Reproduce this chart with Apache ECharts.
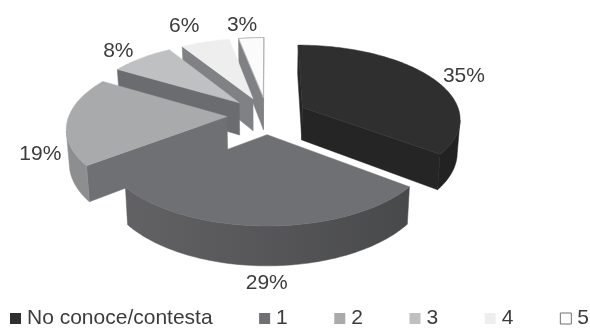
<!DOCTYPE html>
<html><head><meta charset="utf-8">
<style>html,body{margin:0;padding:0;background:#fff}#c{width:590px;height:328px}</style>
<script src="https://cdn.jsdelivr.net/npm/echarts@6/dist/echarts.min.js"></script>
</head><body><div id="c"></div>
<script>
const categories = ['No conoce/contesta','1','2','3','4','5'];
const values = [35.4,29.1,19.1,7.6,5.8,3];
const topColors = ['#2f2f30','#6f7073','#a9aaac','#bfc0c2','#eeeeef','#fbfbfb'];
const wallColors = ['#262526','#6f7073','#6f7073','#6b6c6f','#808184','#808184'];
const rimColors = ['#232223',null,'#8d8e90','#6b6c6f','#808184','#808184'];
const legendColors = ['#2f2f30','#6f7073','#a9aaac','#bfc0c2','#eeeeef','#ffffff'];
const labelNudge = [[32,-2],[-1,17],[-27,33],[-23,-7],[-21,-16],[-9,-13]];
const drawOrder = [5,4,3,2,0,1];

const cx=267, cy=115.5, R=158, e=40, h=33, persp=0.00087, ratio=0.4619;
const total = values.reduce((a,b)=>a+b,0);
function startAngle(i){let s=0;for(let j=0;j<i;j++)s+=values[j];return s/total*Math.PI*2;}
function proj(X,Y,z){
  const s=1/(1-persp*Y), shrink=z?0.985:1;
  return [cx+X*s*shrink, cy+ratio*Y*s+z*s];
}
const camY=1/persp;
function renderSlice(i,api){
  const v=api.value(0), a0=startAngle(i), a1=a0+v/total*Math.PI*2, mid=(a0+a1)/2;
  const ox=e*Math.sin(mid), oy=-e*Math.cos(mid);
  const rim=a=>[ox+R*Math.sin(a), oy-R*Math.cos(a)];
  const faces=(nx,ny,px,py)=>(0-px)*nx+(camY-py)*ny>0;
  const kids=[];
  const poly=(pts,fill,stroke)=>kids.push({type:'polygon',silent:true,shape:{points:pts},
    style:{fill:fill,stroke:stroke||fill,lineWidth:stroke?1:0.5}});
  const wall=(a)=>{const p=rim(a);return [proj(ox,oy,0),proj(p[0],p[1],0),proj(p[0],p[1],h),proj(ox,oy,h)];};
  const n0=a0-Math.PI/2, n1=a1+Math.PI/2;
  if(faces(Math.sin(n0),-Math.cos(n0),ox,oy)) poly(wall(a0),wallColors[i]);
  if(faces(Math.sin(n1),-Math.cos(n1),ox,oy)) poly(wall(a1),wallColors[i]);
  const n=Math.max(12,Math.ceil((a1-a0)*40));
  const up=[],down=[];
  for(let k=0;k<=n;k++){
    const a=a0+(a1-a0)*k/n,p=rim(a);
    if(faces(Math.sin(a),-Math.cos(a),p[0],p[1])){up.push(proj(p[0],p[1],0));down.unshift(proj(p[0],p[1],h));}
  }
  if(up.length>1){
    const fill=rimColors[i]||{type:'linear',x:0,y:0,x2:1,y2:0,colorStops:[
      {offset:0,color:'#626264'},{offset:0.55,color:'#555557'},{offset:1,color:'#48494b'}]};
    poly(up.concat(down),fill);
  }
  const topFace=[proj(ox,oy,0)];
  for(let k=0;k<=n;k++){const a=a0+(a1-a0)*k/n,p=rim(a);topFace.push(proj(p[0],p[1],0));}
  poly(topFace,topColors[i],i===5?'#b4b4b6':null);
  const lp=rim(mid), q=proj(lp[0],lp[1],i===1?h:0);
  kids.push({type:'text',silent:true,x:q[0]+labelNudge[i][0],y:q[1]+labelNudge[i][1],
    style:{text:Math.round(v)+'%',font:'21px "Liberation Sans"',fill:'#3c3c3e',align:'center',verticalAlign:'middle'}});
  return {type:'group',children:kids};
}
const chart=echarts.init(document.getElementById('c'),null,{renderer:'canvas'});
chart.setOption({
  animation:false,
  backgroundColor:'#fff',
  legend:{
    left:10,top:308,padding:0,width:590,itemWidth:11,itemHeight:11,itemGap:46.5,icon:'rect',
    selectedMode:false,
    textStyle:{fontFamily:'Liberation Sans',fontSize:21,color:'#3c3c3e',padding:[0,0,0,1]},
    data:categories.map((c,i)=>({name:c,itemStyle:i===5?{color:'#fff',borderColor:'#6f7073',borderWidth:1}:{color:legendColors[i]}}))
  },
  series:categories.map((c,i)=>({
    type:'custom',name:c,coordinateSystem:'none',
    z:2+drawOrder.indexOf(i),
    itemStyle:{color:legendColors[i]},
    data:[values[i]],
    renderItem:(p,api)=>renderSlice(i,api)
  }))
});
</script></body></html>
